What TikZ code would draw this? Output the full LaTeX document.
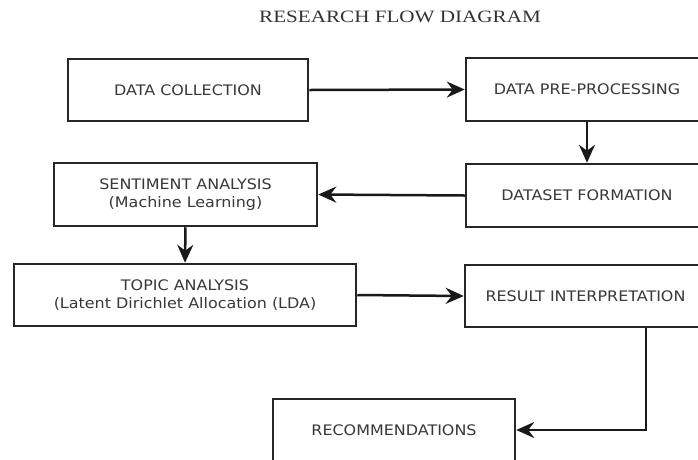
\documentclass[tikz,border=0pt]{standalone}
\usepackage{fontspec}
\setmainfont[FakeStretch=1.1]{DejaVu Sans}
\newfontfamily\titlefont{Liberation Serif}
\usetikzlibrary{arrows.meta}

\begin{document}
\begin{tikzpicture}[x=1pt, y=-1pt,
  box/.style={draw=black!85, line width=2.5pt, rectangle, inner sep=0pt,
    align=center, text=black!78, font=\fontsize{14.5}{18.5}\selectfont},
  flow/.style={line width=2.5pt, draw=black!90,
    -{Stealth[length=18pt, width=16pt, inset=6pt]}}]

\useasboundingbox (0,0) rectangle (698,459);
\clip (0,0) rectangle (698,459);
\fill[white] (0,0) rectangle (698,459);

% heading
\node[text=black!80, inner sep=0pt] (title) at (400,17)
  {\scalebox{1.28}[1.05]{\titlefont\fontsize{16.5}{18}\selectfont RESEARCH FLOW DIAGRAM}};

% process steps
\node[box, minimum width=240pt, minimum height=62pt] (dc)  at (188,90)    {DATA COLLECTION};
\node[box, minimum width=242pt, minimum height=63pt] (dpp) at (587,89.5)  {DATA PRE-PROCESSING};
\node[box, minimum width=242pt, minimum height=63pt] (dsf) at (587,195.5) {DATASET FORMATION};
\node[box, minimum width=263pt, minimum height=63pt] (sa)  at (185.5,194.5)
  {SENTIMENT ANALYSIS\\(Machine Learning)};
\node[box, minimum width=342pt, minimum height=62pt] (ta)  at (185,295)
  {TOPIC ANALYSIS\\(Latent Dirichlet Allocation (LDA)};
\node[box, minimum width=241pt, minimum height=62pt] (ri)  at (585.5,296) {RESULT INTERPRETATION};
\node[box, minimum width=242pt, minimum height=62pt] (rec) at (394,430)   {RECOMMENDATIONS};

% connectors
\draw[flow] (dc.east) -- (dpp.west);
\draw[flow] (dpp.south) -- (dsf.north);
\draw[flow] (dsf.west) -- (sa.east);
\draw[flow] (sa.south) -- (ta.north);
\draw[flow] (ta.east) -- (ri.west);
\coordinate (turn) at (646,430);
\draw[flow] (ri.south -| turn) -- (turn) -- (rec.east);
\end{tikzpicture}
\end{document}
